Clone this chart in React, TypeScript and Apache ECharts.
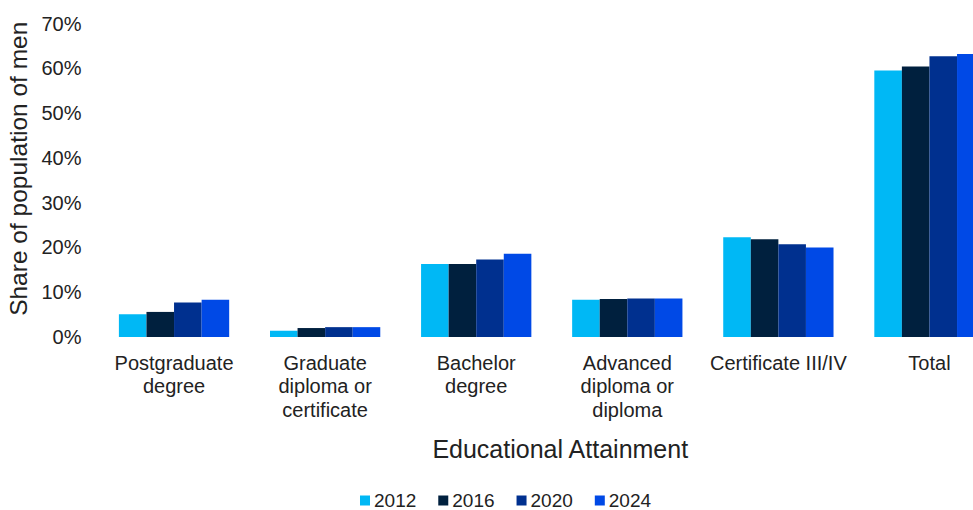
import React, { useEffect, useRef } from "react";
import * as echarts from "echarts";

const categories = [
  "Postgraduate\ndegree",
  "Graduate\ndiploma or\ncertificate",
  "Bachelor\ndegree",
  "Advanced\ndiploma or\ndiploma",
  "Certificate III/IV",
  "Total",
];
const years = ["2012", "2016", "2020", "2024"];
const values2012 = [5.1, 1.4, 16.3, 8.3, 22.3, 59.5];
const values2016 = [5.6, 2.0, 16.3, 8.5, 21.8, 60.4];
const values2020 = [7.7, 2.2, 17.3, 8.6, 20.7, 62.7];
const values2024 = [8.3, 2.2, 18.6, 8.6, 20.0, 63.2];
const colors = ["#00B8F5", "#00203E", "#00308F", "#0049E6"];
const yTicks = [0, 70, 10];

const FONT = "'Liberation Sans', Arial, sans-serif";
const TEXT = "#222222";

export default function App() {
  const ref = useRef<HTMLDivElement>(null);
  useEffect(() => {
    if (!ref.current) return;
    const chart = echarts.init(ref.current, undefined, { renderer: "svg" });
    const seriesValues = [values2012, values2016, values2020, values2024];
    chart.setOption({
      animation: false,
      backgroundColor: "#ffffff",
      textStyle: { fontFamily: FONT, color: TEXT },
      grid: {
        left: 98.5,
        right: 0,
        top: 23.5,
        bottom: 173,
        containLabel: false,
        outerBoundsMode: "none",
      },
      legend: {
        data: years,
        left: 360,
        top: 491,
        padding: 0,
        itemWidth: 10,
        itemHeight: 10,
        itemGap: 22,
        icon: "rect",
        textStyle: { fontFamily: FONT, fontSize: 19, color: TEXT, padding: [0, 0, 0, -1] },
      },
      xAxis: {
        type: "category",
        data: categories,
        axisLine: { show: false },
        axisTick: { show: false },
        axisLabel: {
          interval: 0,
          margin: 14,
          fontFamily: FONT,
          fontSize: 20,
          lineHeight: 23.5,
          color: TEXT,
        },
        name: "Educational Attainment",
        nameLocation: "middle",
        nameGap: 99,
        nameTextStyle: { fontFamily: FONT, fontSize: 25, color: TEXT, padding: [0, 0, 0, 17] },
      },
      yAxis: {
        type: "value",
        min: yTicks[0],
        max: yTicks[1],
        interval: yTicks[2],
        splitLine: { show: false },
        axisLine: { show: false },
        axisTick: { show: false },
        axisLabel: {
          formatter: "{value}%",
          margin: 17,
          fontFamily: FONT,
          fontSize: 20,
          color: TEXT,
        },
        name: "Share of population of men",
        nameLocation: "middle",
        nameRotate: 90,
        nameGap: 68,
        nameTextStyle: { fontFamily: FONT, fontSize: 24.5, color: TEXT, padding: [0, 0, 0, 23] },
      },
      series: years.map((y, i) => ({
        name: y,
        type: "bar",
        data: seriesValues[i],
        barGap: "0%",
        barCategoryGap: "27%",
        itemStyle: { color: colors[i] },
      })),
    });
    return () => chart.dispose();
  }, []);
  return (
    <div
      style={{
        position: "fixed",
        left: 0,
        top: 0,
        width: 973,
        height: 510,
        overflow: "hidden",
        background: "#fff",
      }}
    >
      <div ref={ref} style={{ width: 1004.5, height: 510 }} />
    </div>
  );
}
